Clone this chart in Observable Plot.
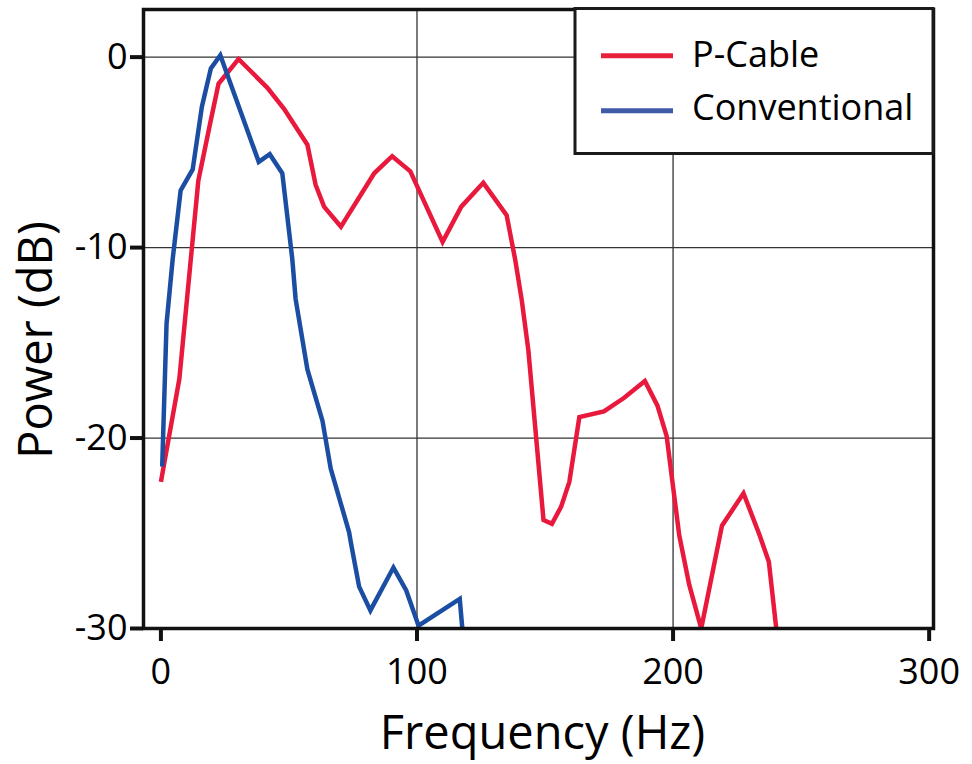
<!DOCTYPE html>
<html>
<head>
<meta charset="utf-8">
<script src="https://cdn.jsdelivr.net/npm/d3@7"></script>
<script src="https://cdn.jsdelivr.net/npm/@observablehq/plot@0.6"></script>
<style>
  html, body { margin: 0; padding: 0; background: #fff; }
  #chart { position: relative; width: 972px; height: 764px; font-family: "Open Sans", sans-serif; }
  #chart svg.plot { position: absolute; left: 0; top: 0; }
  #legend { position: absolute; left: 0; top: 0; }
</style>
</head>
<body>
<div id="chart"></div>
<script>
// ---- data ----
const seriesNames = ["P-Cable", "Conventional"];
const seriesColors = ["#e8193c", "#1b4ea2"];
const legendColors = ["#e8223a", "#3f5ba8"];

const pcableFreq = [0, 7.2, 14.6, 19.2, 22.5, 30.3, 41.5, 48, 57.2, 60.4, 63.7, 70.3, 83.3, 90.3, 97.4, 110, 117.3, 125.9, 135, 138.3, 140.9, 143.5, 149.4, 152.7, 156.3, 159.5, 163.4, 173, 180.8, 189, 193.9, 197.5, 202.4, 206.3, 211, 219.1, 227.5, 233.8, 237.4, 240.3];
const pcablePower = [-22.3, -16.9, -6.5, -3.5, -1.4, -0.1, -1.6, -2.7, -4.6, -6.7, -7.85, -8.9, -6.1, -5.2, -6.0, -9.7, -7.85, -6.6, -8.3, -10.6, -12.75, -15.4, -24.3, -24.5, -23.6, -22.3, -18.9, -18.6, -17.9, -17.0, -18.3, -19.9, -25.1, -27.7, -30, -24.6, -22.9, -25.1, -26.5, -30];

const convFreq = [0.5, 2.2, 4.6, 7.7, 12.4, 16, 19.5, 23.2, 38.2, 42.5, 47.4, 51.3, 52.6, 57.2, 63.1, 66.3, 73.5, 74.2, 77.4, 81.8, 90.8, 95.8, 100.6, 116.7, 117.7];
const convPower = [-21.5, -14, -10.6, -7.0, -5.9, -2.6, -0.6, 0.1, -5.5, -5.1, -6.1, -10.6, -12.7, -16.4, -19.1, -21.6, -24.95, -25.5, -27.8, -29.05, -26.8, -28.0, -29.85, -28.45, -30];

const xTicks = [0, 100, 200, 300];
const yTicks = [0, -10, -20, -30];
const xGrid = [100, 200];
const yGrid = [0, -10, -20];
const xLabel = "Frequency (Hz)";
const yLabel = "Power (dB)";

// ---- build rows ----
const pcable = pcableFreq.map((f, i) => ({f, p: pcablePower[i], s: seriesNames[0]}));
const conv = convFreq.map((f, i) => ({f, p: convPower[i], s: seriesNames[1]}));

const lineStyle = {x: "f", y: "p", strokeWidth: 4.5, strokeLinejoin: "miter", strokeMiterlimit: 6, strokeLinecap: "butt", clip: true};

const plot = Plot.plot({
  width: 972,
  height: 764,
  marginLeft: 143,
  marginRight: 39,
  marginTop: 9,
  marginBottom: 136,
  style: {fontFamily: "'Open Sans', sans-serif", background: "#fff", color: "#111", overflow: "visible"},
  x: {domain: [-6.8, 301.7]},
  y: {domain: [-30, 2.5]},
  marks: [
    Plot.gridX(xGrid, {stroke: "#333", strokeOpacity: 1, strokeWidth: 1.3}),
    Plot.gridY(yGrid, {stroke: "#333", strokeOpacity: 1, strokeWidth: 1.3}),
    Plot.line(pcable, {...lineStyle, stroke: seriesColors[0]}),
    Plot.line(conv, {...lineStyle, stroke: seriesColors[1]}),
    Plot.frame({stroke: "#111", strokeWidth: 3.5}),
    Plot.axisX(xTicks, {tickSize: 13, tickPadding: 17, strokeWidth: 4, stroke: "#111", fontSize: 36, fill: "#000", label: null, tickFormat: d => String(d)}),
    Plot.axisY(yTicks, {tickSize: 13, tickPadding: 3, strokeWidth: 4, stroke: "#111", fontSize: 36, fill: "#000", label: null, tickFormat: d => String(d)}),
    Plot.text([xLabel], {text: d => d, frameAnchor: "bottom", textAnchor: "middle", lineAnchor: "middle", dx: 4, dy: 105, fontSize: 47, fill: "#000"}),
    Plot.text([yLabel], {text: d => d, frameAnchor: "left", textAnchor: "middle", lineAnchor: "middle", rotate: -90, dx: -107, dy: 21, fontSize: 47, fill: "#000"})
  ]
});
plot.classList.add("plot");
document.getElementById("chart").appendChild(plot);

// ---- legend (top-right, inside the frame) ----
const leg = d3.select("#chart").append("svg")
  .attr("id", "legend")
  .attr("width", 972).attr("height", 170)
  .style("font-family", "'Open Sans', sans-serif");
leg.append("rect")
  .attr("x", 575).attr("y", 8.5).attr("width", 358).attr("height", 145)
  .attr("fill", "#fff").attr("stroke", "#1a1a1a").attr("stroke-width", 3);
seriesNames.forEach((name, i) => {
  const cy = 55.8 + i * 55;
  leg.append("line")
    .attr("x1", 601).attr("x2", 673).attr("y1", cy).attr("y2", cy)
    .attr("stroke", legendColors[i]).attr("stroke-width", 5);
  leg.append("text")
    .attr("x", 692).attr("y", 66.7 + i * 53.5)
    .attr("font-size", 36).attr("fill", "#000")
    .text(name);
});
</script>
</body>
</html>
